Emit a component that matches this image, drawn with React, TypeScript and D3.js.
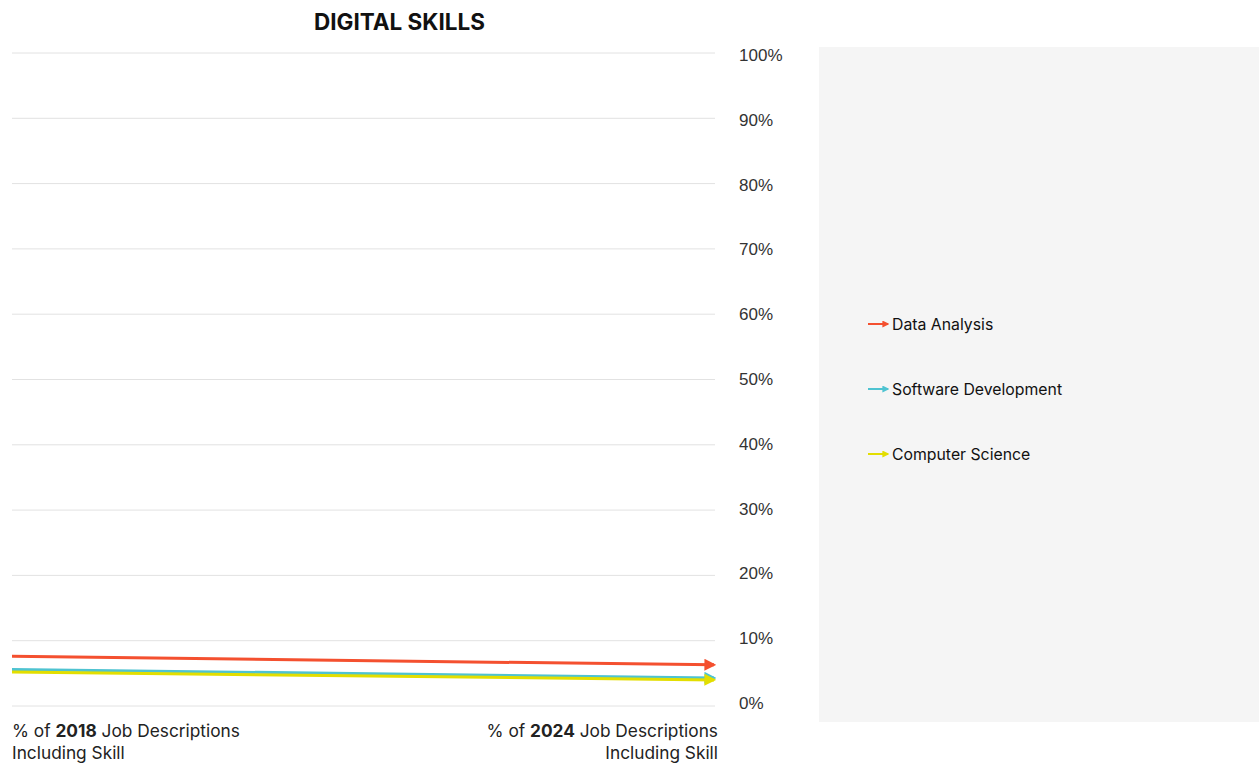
import React, { useEffect } from "react";
import * as d3 from "d3";

const periods = ["2018", "2024"];
const seriesNames = ["Data Analysis", "Software Development", "Computer Science"];
const seriesColors = ["#F4502F", "#4EC3D1", "#E3DE00"];
const dataAnalysis = [7.6, 6.3];
const softwareDevelopment = [5.6, 4.3];
const computerScience = [5.2, 4.0];
const yTicks = [0, 10, 20, 30, 40, 50, 60, 70, 80, 90, 100];

const W = 1259;
const H = 767;

export default function App() {
  useEffect(() => {
    document.body.style.margin = "0";
  }, []);

  const x = d3.scalePoint<string>().domain(periods).range([12, 714]);
  const y = d3.scaleLinear().domain([0, 100]).range([706, 53]);
  const yLabel = d3.scaleLinear().domain([0, 100]).range([703, 55]);
  const values = [dataAnalysis, softwareDevelopment, computerScience];
  const line = d3
    .line<number>()
    .x((_, i) => x(periods[i]) as number)
    .y((d) => y(d));

  const legendY = d3.scalePoint<string>().domain(seriesNames).range([324, 454]);
  const font = "Inter, 'Noto Sans', sans-serif";

  return (
    <svg width={W} height={H} style={{ display: "block", position: "absolute", left: 0, top: 0 }}>
      <defs>
        {seriesColors.map((c, i) => (
          <marker
            key={i}
            id={`arrow${i}`}
            viewBox="0 0 10 10"
            refX={8}
            refY={5}
            markerWidth={4}
            markerHeight={4}
            orient="auto"
            markerUnits="strokeWidth"
          >
            <path d="M0,0 L10,5 L0,10 Z" fill={c} />
          </marker>
        ))}
        {seriesColors.map((c, i) => (
          <marker
            key={"l" + i}
            id={`larrow${i}`}
            viewBox="0 0 10 10"
            refX={8}
            refY={5}
            markerWidth={3.5}
            markerHeight={3.5}
            orient="auto"
            markerUnits="strokeWidth"
          >
            <path d="M0,0 L10,5 L0,10 Z" fill={c} />
          </marker>
        ))}
      </defs>
      <rect x={0} y={0} width={W} height={H} fill="#fff" />
      <rect x={819} y={47} width={W - 819} height={722 - 47} fill="#F5F5F5" />
      <text x={399.5} y={30} textAnchor="middle" fontFamily={font} fontWeight={700} fontSize={22.5} fill="#111">
        DIGITAL SKILLS
      </text>
      {yTicks.map((t) => (
        <g key={t}>
          <line x1={12} x2={715} y1={y(t)} y2={y(t)} stroke="#E2E2E2" strokeWidth={1} />
          <text
            x={739}
            y={yLabel(t) + 6}
            fontFamily="'Liberation Sans', Arial, sans-serif"
            fontSize={17}
            fill="#333"
          >
            {t}%
          </text>
        </g>
      ))}
      {values.map((v, i) => (
        <path
          key={i}
          d={line(v) as string}
          fill="none"
          stroke={seriesColors[i]}
          strokeWidth={3}
          markerEnd={`url(#arrow${i})`}
        />
      ))}
      <text x={12} y={737} fontFamily={font} fontSize={17.3} fill="#222">
        % of <tspan fontWeight={700}>{periods[0]}</tspan> Job Descriptions
      </text>
      <text x={12} y={759} fontFamily={font} fontSize={17.3} fill="#222">
        Including Skill
      </text>
      <text x={718} y={737} textAnchor="end" fontFamily={font} fontSize={17.3} fill="#222">
        % of <tspan fontWeight={700}>{periods[1]}</tspan> Job Descriptions
      </text>
      <text x={718} y={759} textAnchor="end" fontFamily={font} fontSize={17.3} fill="#222">
        Including Skill
      </text>
      {seriesNames.map((n, i) => {
        const ly = legendY(n) as number;
        return (
          <g key={n}>
            <line
              x1={868}
              x2={888}
              y1={ly}
              y2={ly}
              stroke={seriesColors[i]}
              strokeWidth={2}
              markerEnd={`url(#larrow${i})`}
            />
            <text x={892} y={ly + 5.5} fontFamily={font} fontSize={15.8} fill="#111">
              {n}
            </text>
          </g>
        );
      })}
    </svg>
  );
}
